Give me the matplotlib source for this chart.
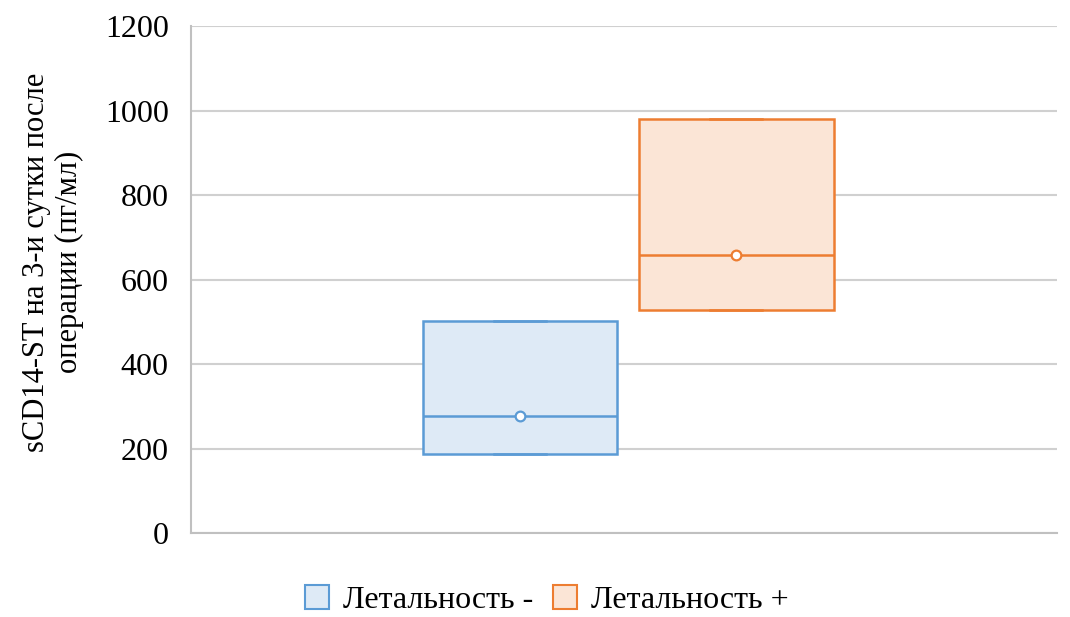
import matplotlib
matplotlib.use('Agg')
import matplotlib.pyplot as plt
from matplotlib.patches import Patch

labels = ['Летальность -', 'Летальность +']
q1 = [187, 528]
med = [277, 658]
q3 = [503, 981]
mean = [277, 658]
lo = [187, 528]
hi = [503, 981]
edge_colors = ['#5B9BD5', '#ED7D31']
fill_colors = ['#DEEAF6', '#FBE5D6']

plt.rcParams['font.family'] = ['Liberation Serif', 'DejaVu Serif']

fig = plt.figure(figsize=(10.7, 6.17), dpi=100)
ax = fig.add_axes([0.1785, 0.1361, 0.809, 0.8217])

positions = [0.380, 0.630]
for i in range(len(labels)):
    stats = [{'med': med[i], 'q1': q1[i], 'q3': q3[i], 'whislo': lo[i],
              'whishi': hi[i], 'mean': mean[i], 'fliers': []}]
    ax.bxp(stats, positions=[positions[i]], widths=0.225, patch_artist=True,
           showmeans=True, showfliers=False,
           boxprops=dict(facecolor=fill_colors[i], edgecolor=edge_colors[i], linewidth=1.8),
           medianprops=dict(color=edge_colors[i], linewidth=1.8),
           whiskerprops=dict(color=edge_colors[i], linewidth=1.8),
           capprops=dict(color=edge_colors[i], linewidth=1.8),
           capwidths=0.06,
           meanprops=dict(marker='o', markerfacecolor='white', markeredgecolor=edge_colors[i],
                          markersize=7, markeredgewidth=1.6),
           manage_ticks=False, zorder=3)

ax.set_xlim(0, 1)
ax.set_ylim(0, 1200)
ax.set_yticks(range(0, 1201, 200))
ax.set_xticks([])
ax.grid(axis='y', color='#D0D0D0', linewidth=1.5, zorder=0)
ax.set_axisbelow(True)
for s in ['top', 'right']:
    ax.spines[s].set_visible(False)
for s in ['left', 'bottom']:
    ax.spines[s].set_color('#C0C0C0')
    ax.spines[s].set_linewidth(1.5)
ax.tick_params(axis='y', length=0, labelsize=23, pad=16)

ax.set_ylabel('sCD14-ST на 3-и сутки после\nоперации (пг/мл)', fontsize=22, linespacing=1.15)
ax.yaxis.set_label_coords(-0.124, 0.534)

handles = [Patch(facecolor=fill_colors[i], edgecolor=edge_colors[i], linewidth=1.5, label=labels[i])
           for i in range(len(labels))]
fig.legend(handles=handles, loc='center', bbox_to_anchor=(0.511, 0.027), ncol=2, frameon=False,
           fontsize=23, handlelength=0.75, handleheight=0.75, handletextpad=0.45, columnspacing=0.6)

fig.savefig('out.png', dpi=100)
